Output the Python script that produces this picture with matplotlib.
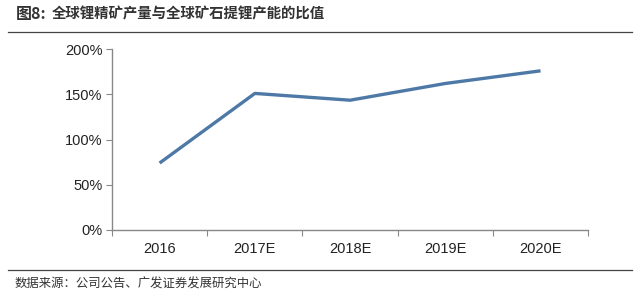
import matplotlib
matplotlib.use('Agg')
import matplotlib.pyplot as plt
from matplotlib.lines import Line2D
from matplotlib.ticker import FuncFormatter

plt.rcParams['font.family'] = ['Liberation Sans', 'Noto Sans CJK SC', 'DejaVu Sans']

# 数据
years = ['2016', '2017E', '2018E', '2019E', '2020E']
ratio = [74, 151, 143.5, 162, 176]

fig = plt.figure(figsize=(6.4, 3.07), dpi=100)
ax = fig.add_axes([0.175, 0.251, 0.744, 0.589])

x = list(range(len(years)))
ax.plot(x, ratio, color='#4e79a7', linewidth=2.4, solid_capstyle='butt')

ax.set_xlim(-0.5, len(years) - 0.5)
ax.set_ylim(0, 200)
ax.set_yticks([0, 50, 100, 150, 200])
ax.yaxis.set_major_formatter(FuncFormatter(lambda v, p: f'{int(v)}%'))

# 类别边界画刻度，类别中心放标签
ax.set_xticks([i - 0.5 for i in range(len(years) + 1)])
ax.set_xticklabels([])
ax.set_xticks(x, minor=True)
ax.set_xticklabels(years, minor=True)
ax.tick_params(axis='x', which='minor', length=0, pad=9, labelsize=10.5, colors='#222222')
ax.tick_params(axis='x', which='major', length=4, color='#888888', direction='out')
ax.tick_params(axis='y', length=4, color='#888888', labelsize=10.5, labelcolor='#222222', pad=3)

for s in ['top', 'right']:
    ax.spines[s].set_visible(False)
for s in ['left', 'bottom']:
    ax.spines[s].set_color('#888888')
    ax.spines[s].set_linewidth(1.0)

# 标题与来源
fig.text(0.024, 0.953, '图8:', fontsize=11.5, fontweight='bold', color='#333333',
         va='center', family=['Noto Sans CJK SC'])
fig.text(0.081, 0.953, '全球锂精矿产量与全球矿石提锂产能的比值', fontsize=10.4,
         fontweight='bold', color='#333333', va='center', family=['Noto Sans CJK SC'])
fig.add_artist(Line2D([0.013, 0.988], [0.896, 0.896], color='#444444', linewidth=0.9))
fig.add_artist(Line2D([0.013, 0.988], [0.121, 0.121], color='#444444', linewidth=0.9))
fig.text(0.023, 0.075, '数据来源：公司公告、广发证券发展研究中心', fontsize=8.9,
         color='#333333', va='center', family=['Noto Sans CJK SC'])

fig.savefig('out.png', dpi=100, facecolor='white')
